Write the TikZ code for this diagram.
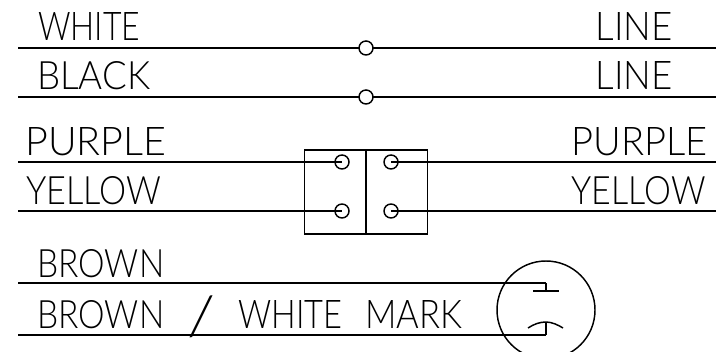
\documentclass[tikz,border=0pt]{standalone}
\usepackage{fontspec}
\setmainfont{Lato Light}
\usetikzlibrary{positioning}
% text box of given width in picture units, all letters the same height
\newcommand{\wiretext}[2]{\resizebox{\dimexpr#1pt*3/4\relax}{21pt}{#2}}

\begin{document}
\begin{tikzpicture}[x=0.75pt,y=-0.75pt,
    wirelabel/.style={anchor=base west, inner sep=0pt, font=\fontsize{28}{28}\selectfont},
    wirelabelr/.style={anchor=base east, inner sep=0pt, font=\fontsize{28}{28}\selectfont},
    terminal/.style={circle, draw, line width=1.1pt, fill=white, inner sep=0pt, minimum size=10.5pt},
    wire/.style={line width=1.1pt},
    ]
    \useasboundingbox (0,0) rectangle (716,352);
    % labels
    \node[wirelabel]  (white)  at (38,41)   {\wiretext{102}{WHITE}};
    \node[wirelabel]  (black)  at (37,90)   {\wiretext{113}{BLACK}};
    \node[wirelabel]  (purpl)  at (25,156)  {\wiretext{141}{PURPLE}};
    \node[wirelabel]  (yello)  at (26,205)  {\wiretext{135}{YELLOW}};
    \node[wirelabel]  (brown)  at (37,277)  {\wiretext{127}{BROWN}};
    \node[wirelabel]  (brwhm)  at (37,328)  {\wiretext{127}{BROWN}};
    \node[inner sep=0pt, font=\fontsize{28}{28}\selectfont] (slash) at (201,317) {\resizebox*{21pt}{31.5pt}{/}};
    \node[wirelabel]  (whtxt)  at (238,328) {\wiretext{104}{WHITE}};
    \node[wirelabel]  (mrktx)  at (365,328) {\wiretext{97}{MARK}};
    \node[wirelabelr] (liner)  at (673,41)  {\wiretext{77}{LINE}};
    \node[wirelabelr] (lineb)  at (673,90)  {\wiretext{77}{LINE}};
    \node[wirelabelr] (purpr)  at (708,156) {\wiretext{136}{PURPLE}};
    \node[wirelabelr] (yellr)  at (706,205) {\wiretext{134}{YELLOW}};
    % wire ends
    \coordinate (w1) at (18,48);   \coordinate (w2) at (716,48);
    \coordinate (b1) at (18,97);   \coordinate (b2) at (716,97);
    \coordinate (p1) at (18,162);  \coordinate (p2) at (716,162);
    \coordinate (y1) at (18,211);  \coordinate (y2) at (716,211);
    \coordinate (r1) at (18,283);  \coordinate (r2) at (546,283);
    \coordinate (m1) at (18,335);  \coordinate (m2) at (546,335);
    % plug
    \node[draw, circle, line width=1.1pt, inner sep=0pt, minimum size=73.5pt] (plug) at (546,310) {};
    % connector box
    \node[draw, line width=1.1pt, inner sep=0pt, minimum width=92.25pt, minimum height=63pt] (box) at (366,192) {};
    \draw[wire] (box.north) -- (box.south);
    % terminals
    \draw[wire] (w1) -- (w2);
    \draw[wire] (b1) -- (b2);
    \node[terminal] (tw) at (366,48) {};
    \node[terminal] (tb) at (366,97) {};
    \node[terminal] (tp) at (342,162) {};
    \node[terminal] (ty) at (342,211) {};
    \node[terminal] (tq) at (391,162) {};
    \node[terminal] (tz) at (391,211) {};
    % lines
    \draw[wire] (p1) -- (tp.center);
    \draw[wire] (y1) -- (ty.center);
    \draw[wire] (tq.center) -- (p2);
    \draw[wire] (tz.center) -- (y2);
    \draw[wire] (r1) -- (r2);
    \draw[wire] (m1) -- (m2);
    % plug contacts
    \coordinate (c1) at (546,291);
    \coordinate (c2) at (546,322);
    \coordinate (c1l) at (533,291);
    \coordinate (c1r) at (559,291);
    \coordinate (c2l) at (528,328);
    \coordinate (c2r) at (563,328);
    \draw[wire] (r2) -- (c1);
    \draw[wire] (c1l) -- (c1r);
    \draw[wire] (m2) -- (c2);
    \draw[wire] (c2l) .. controls (534,324) and (540,322) .. (c2) .. controls (552,322) and (558,325) .. (c2r);
\end{tikzpicture}
\end{document}
